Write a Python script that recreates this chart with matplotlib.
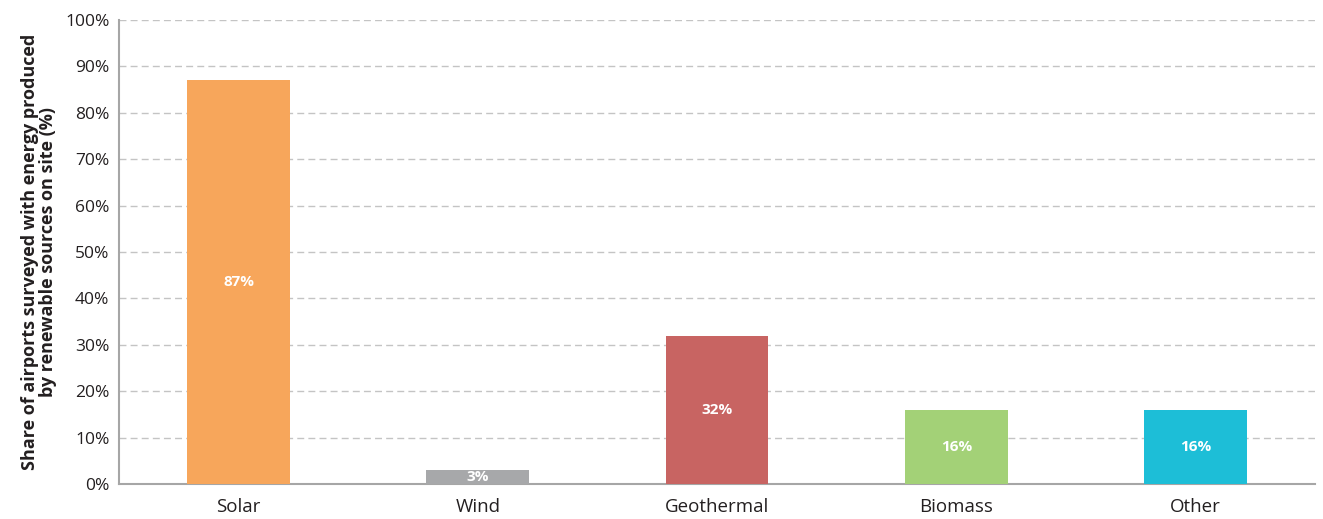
import matplotlib.pyplot as plt
import numpy as np

# dane
categories = ["Solar", "Wind", "Geothermal", "Biomass", "Other"]
shares = [87, 3, 32, 16, 16]
colors = ["#F7A65B", "#A7A8AA", "#C86462", "#A3D177", "#1DBED7"]

plt.rcParams['font.family'] = ['Open Sans', 'DejaVu Sans']

fig = plt.figure(figsize=(13.23, 5.19), dpi=100)
ax = fig.add_axes([0.090, 0.0674, 0.904, 0.894])

x = np.arange(len(categories))
bars = ax.bar(x, shares, width=0.43, color=colors, zorder=3)

# etykiety w środku słupków
for xi, v in zip(x, shares):
    ax.text(xi, v / 2, f"{v}%", ha='center', va='center', color='white',
            fontsize=11, fontweight='bold', zorder=4)

ax.set_xlim(-0.5, 4.5)
ax.set_ylim(0, 100)
ax.set_yticks(range(0, 101, 10))
ax.set_yticklabels([f"{t}%" for t in range(0, 101, 10)], fontsize=12.5, color='#231F20')
ax.set_xticks(x)
ax.set_xticklabels(categories, fontsize=13.5, color='#231F20')
ax.tick_params(axis='both', length=0)
ax.tick_params(axis='x', pad=10)
ax.tick_params(axis='y', pad=7)

ax.yaxis.grid(True, linestyle=(0, (5, 3)), color='#C4C4C4', linewidth=1, zorder=0)
ax.set_axisbelow(True)

for s in ['top', 'right']:
    ax.spines[s].set_visible(False)
for s in ['left', 'bottom']:
    ax.spines[s].set_color('#A6A6A6')
    ax.spines[s].set_linewidth(1.5)

ax.set_ylabel("Share of airports surveyed with energy produced\nby renewable sources on site (%)",
              fontsize=13, fontweight='bold', color='#231F20', linespacing=0.95, labelpad=6)

fig.savefig("out.png", dpi=100)
